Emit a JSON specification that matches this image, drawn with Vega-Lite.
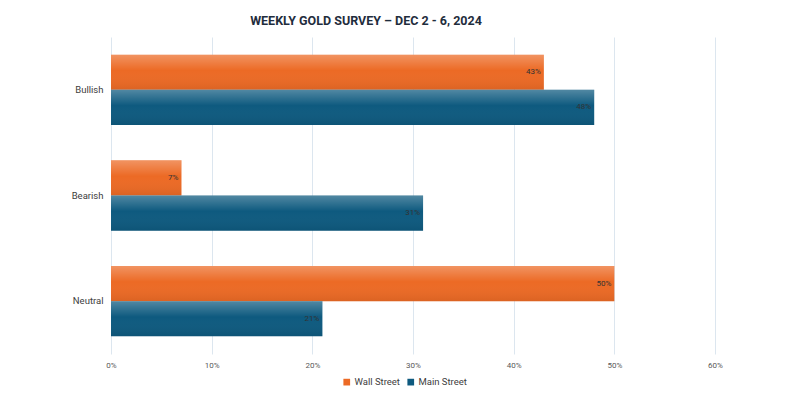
{
  "$schema": "https://vega.github.io/schema/vega-lite/v6.json",
  "width": 604,
  "height": 317,
  "autosize": {"type": "none"},
  "padding": {"left": 111, "top": 37, "right": 85, "bottom": 46},
  "background": "white",
  "title": {
    "text": "WEEKLY GOLD SURVEY – DEC 2 - 6, 2024",
    "font": "Roboto",
    "fontSize": 12.5,
    "fontWeight": "bold",
    "color": "#1F2D3D",
    "offset": 10,
    "dx": -47
  },
  "data": {
    "values": [
      {"category": "Bullish", "series": "Wall Street", "value": 43, "label": "43%"},
      {"category": "Bullish", "series": "Main Street", "value": 48, "label": "48%"},
      {"category": "Bearish", "series": "Wall Street", "value": 7, "label": "7%"},
      {"category": "Bearish", "series": "Main Street", "value": 31, "label": "31%"},
      {"category": "Neutral", "series": "Wall Street", "value": 50, "label": "50%"},
      {"category": "Neutral", "series": "Main Street", "value": 21, "label": "21%"}
    ]
  },
  "encoding": {
    "y": {
      "field": "category",
      "type": "nominal",
      "sort": ["Bullish", "Bearish", "Neutral"],
      "scale": {"paddingInner": 0.335, "paddingOuter": 0.1675},
      "axis": {
        "title": null,
        "domain": false,
        "ticks": false,
        "labelPadding": 8,
        "labelFontSize": 9.5,
        "labelColor": "#404040",
        "labelFont": "Roboto"
      }
    },
    "yOffset": {
      "field": "series",
      "type": "nominal",
      "sort": ["Wall Street", "Main Street"],
      "scale": {"paddingInner": 0, "paddingOuter": 0}
    },
    "x": {
      "field": "value",
      "type": "quantitative",
      "scale": {"domain": [0, 60], "nice": false},
      "axis": {
        "title": null,
        "values": [0, 10, 20, 30, 40, 50, 60],
        "labelExpr": "datum.value + '%'",
        "labelFlush": false,
        "domain": false,
        "ticks": false,
        "labelPadding": 7,
        "labelFontSize": 8,
        "labelColor": "#595959",
        "labelFont": "Roboto",
        "gridColor": "#DCE6EF",
        "gridWidth": 1
      }
    }
  },
  "layer": [
    {
      "mark": {"type": "bar"},
      "encoding": {
        "color": {
          "field": "series",
          "type": "nominal",
          "scale": {"domain": ["Wall Street", "Main Street"], "range": ["#EC6A25", "#0E5A7F"]},
          "legend": {
            "title": null,
            "orient": "none",
            "legendX": 231,
            "legendY": 340,
            "direction": "horizontal",
            "symbolType": "square",
            "symbolSize": 45,
            "labelFontSize": 9.5,
            "labelOffset": 3,
            "labelColor": "#404040",
            "labelFont": "Roboto",
            "columnPadding": 6
          }
        }
      }
    },
    {
      "mark": {
        "type": "bar",
        "fill": {
          "gradient": "linear",
          "x1": 0, "y1": 0, "x2": 0, "y2": 1,
          "stops": [
            {"offset": 0, "color": "rgba(255,255,255,0.28)"},
            {"offset": 0.45, "color": "rgba(255,255,255,0)"},
            {"offset": 1, "color": "rgba(0,0,0,0.07)"}
          ]
        }
      },
      "encoding": {}
    },
    {
      "mark": {"type": "text", "align": "right", "dx": -3, "fontSize": 8, "color": "#333333", "font": "Roboto"},
      "encoding": {"text": {"field": "label"}}
    }
  ],
  "config": {"view": {"stroke": null}}
}
